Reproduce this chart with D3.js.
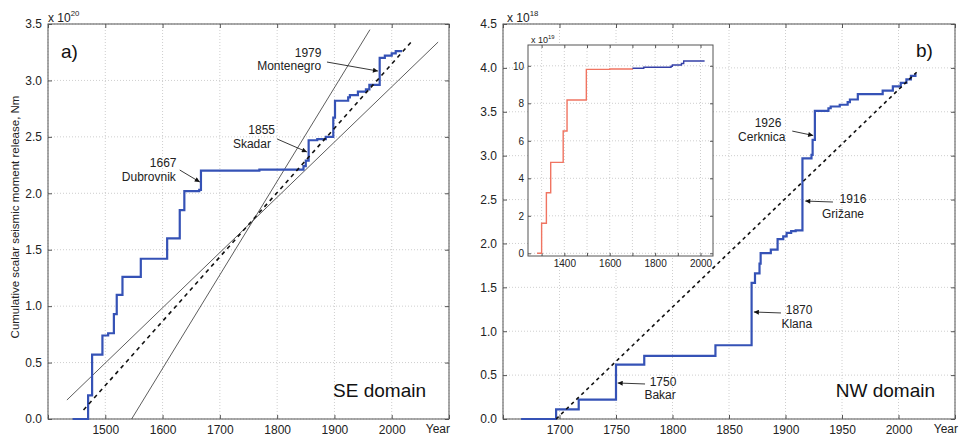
<!DOCTYPE html>
<html>
<meta charset="utf-8">
<style>
body { margin: 0; background: #fff; }
svg { font-family: "Liberation Sans", Arial, sans-serif; }
.grid line { stroke: #c2c2c2; stroke-width: 0.8; stroke-dasharray: 1,2; }
.frame { fill: none; stroke: #555; stroke-width: 1; }
.axis path { display: none; }
.axis line { stroke: #555; }
.axis text { fill: #222; }
.note { font-size: 12px; fill: #222; }
</style>
<svg width="959" height="437"></svg>
<script src="https://d3js.org/d3.v7.min.js"></script>
<script>
// ---- a) SE domain, cumulative moment in 1e20 Nm
var seYears  = [1443, 1470, 1477, 1495, 1505, 1515, 1520, 1530, 1562, 1608, 1630, 1638, 1664, 1667,
                1769, 1846, 1850, 1855, 1870, 1885, 1898, 1901, 1924, 1927, 1941, 1955, 1961, 1979,
                1988, 2000, 2007, 2018];
var seMoment = [0, 0.21, 0.57, 0.74, 0.76, 0.93, 1.10, 1.26, 1.42, 1.60, 1.85, 2.02, 2.03, 2.20,
                2.21, 2.24, 2.29, 2.47, 2.48, 2.50, 2.67, 2.82, 2.85, 2.87, 2.90, 2.92, 2.96, 3.20,
                3.22, 3.24, 3.26, 3.26];
var seMeanYears = [1462, 2034], seMeanValues = [0.08, 3.34];
var seSteepYears = [1546, 1962], seSteepValues = [0, 3.45];
var seFlatYears = [1433, 2081], seFlatValues = [0.168, 3.34];
var seXTicks = [1400, 1500, 1600, 1700, 1800, 1900, 2000, 2100];
var seXLabels = [1500, 1600, 1700, 1800, 1900, 2000];
var seYTicks = [0, 0.5, 1, 1.5, 2, 2.5, 3, 3.5];

// ---- b) NW domain, cumulative moment in 1e18 Nm
var nwYears  = [1666, 1697, 1717, 1750, 1775, 1838, 1870, 1873, 1877, 1878, 1887, 1893, 1898, 1901,
                1905, 1909, 1915, 1923, 1924, 1926, 1938, 1940, 1948, 1955, 1957, 1964, 1986, 1995,
                2002, 2007, 2011, 2015];
var nwMoment = [0, 0.11, 0.22, 0.62, 0.72, 0.84, 1.55, 1.66, 1.77, 1.89, 1.93, 2.05, 2.08, 2.12,
                2.14, 2.15, 2.97, 3.01, 3.18, 3.51, 3.54, 3.56, 3.58, 3.61, 3.64, 3.70, 3.74, 3.79,
                3.83, 3.87, 3.91, 3.94];
var nwMeanYears = [1697, 2016], nwMeanValues = [0, 3.95];
var nwXTicks = [1650, 1700, 1750, 1800, 1850, 1900, 1950, 2000, 2050];
var nwXLabels = [1700, 1750, 1800, 1850, 1900, 1950, 2000];
var nwYTicks = [0, 0.5, 1, 1.5, 2, 2.5, 3, 3.5, 4, 4.5];

// ---- inset, whole catalogue in 1e19 Nm (red before 1700, blue after)
var insetEarlyYears  = [1280, 1300, 1321, 1340, 1395, 1412, 1497, 1600, 1700];
var insetEarlyMoment = [0, 1.6, 3.23, 4.85, 6.52, 8.18, 9.81, 9.83, 9.87];
var insetLateYears   = [1700, 1750, 1870, 1876, 1916, 1926, 2015];
var insetLateMoment  = [9.87, 9.92, 9.98, 10.04, 10.12, 10.26, 10.29];
var insetXTicks = [1300, 1400, 1500, 1600, 1700, 1800, 1900, 2000];
var insetXLabels = [1400, 1600, 1800, 2000];
var insetYTicks = [0, 2, 4, 6, 8, 10];

// annotations: year label, place, text anchor [year, value], arrow [from, to]
var seNotes = [
  {year: "1979", place: "Montenegro", at: [1854, 3.243], at2: [1821, 3.128], from: [1887, 3.163], to: [1976, 3.083]},
  {year: "1855", place: "Skadar", at: [1773, 2.561], at2: [1756, 2.437], from: [1800, 2.481], to: [1852, 2.366]},
  {year: "1667", place: "Dubrovnik", at: [1601, 2.268], at2: [1576, 2.144], from: [1630, 2.206], to: [1665, 2.10]}
];
var nwNotes = [
  {year: "1926", place: "Cerknica", at: [1884.5, 3.372], at2: [1879, 3.213], from: [1906, 3.28], to: [1924.5, 3.23]},
  {year: "1916", place: "Grižane", at: [1959.7, 2.505], at2: [1950.9, 2.335], from: [1942, 2.472], to: [1917.5, 2.483]},
  {year: "1870", place: "Klana", at: [1912, 1.242], at2: [1910, 1.082], from: [1896, 1.208], to: [1872, 1.219]},
  {year: "1750", place: "Bakar", at: [1791.6, 0.42], at2: [1789, 0.273], from: [1775.7, 0.399], to: [1751.5, 0.41]}
];

var svg = d3.select("svg");
svg.append("rect").attr("width", 959).attr("height", 437).attr("fill", "#fff");

svg.append("defs").append("marker")
    .attr("id", "arrow")
    .attr("viewBox", "0 0 10 10")
    .attr("refX", 10).attr("refY", 5)
    .attr("markerWidth", 7).attr("markerHeight", 5)
    .attr("markerUnits", "userSpaceOnUse")
    .attr("orient", "auto")
  .append("path")
    .attr("d", "M0,0L10,5L0,10z")
    .attr("fill", "#111");

function zip(a, b) { return a.map(function(v, i) { return [v, b[i]]; }); }

function makePanel(box, xDomain, yDomain, xTicks, xLabels, yTicks, fmt, fs) {
  var x = d3.scaleLinear().domain(xDomain).range([box.left, box.right]);
  var y = d3.scaleLinear().domain(yDomain).range([box.bottom, box.top]);
  var g = svg.append("g");

  g.append("rect")
      .attr("x", box.left).attr("y", box.top)
      .attr("width", box.right - box.left).attr("height", box.bottom - box.top)
      .attr("fill", "#fff");

  var grid = g.append("g").attr("class", "grid");
  grid.selectAll(".gx").data(xTicks).join("line")
      .attr("x1", x).attr("x2", x)
      .attr("y1", box.top).attr("y2", box.bottom);
  grid.selectAll(".gy").data(yTicks).join("line")
      .attr("y1", y).attr("y2", y)
      .attr("x1", box.left).attr("x2", box.right);

  var tk = fs > 11 ? 4 : 3;
  g.append("g").attr("class", "axis")
      .attr("transform", "translate(0," + box.bottom + ")")
      .style("font-size", fs + "px")
      .call(d3.axisBottom(x).tickValues(xTicks).tickSizeInner(-tk).tickSizeOuter(0)
        .tickPadding(fs > 11 ? 6 : 4)
        .tickFormat(function(d) { return xLabels.indexOf(d) >= 0 ? d : ""; }));
  g.append("g").attr("class", "axis")
      .attr("transform", "translate(0," + box.top + ")")
      .call(d3.axisTop(x).tickValues(xTicks).tickSizeInner(-tk).tickSizeOuter(0).tickFormat(""));
  g.append("g").attr("class", "axis")
      .attr("transform", "translate(" + box.left + ",0)")
      .style("font-size", fs + "px")
      .call(d3.axisLeft(y).tickValues(yTicks).tickSizeInner(-tk).tickSizeOuter(0)
        .tickPadding(fs > 11 ? 6 : 4).tickFormat(d3.format(fmt)));
  g.append("g").attr("class", "axis")
      .attr("transform", "translate(" + box.right + ",0)")
      .call(d3.axisRight(y).tickValues(yTicks).tickSizeInner(-tk).tickSizeOuter(0).tickFormat(""));

  g.selectAll(".axis").attr("font-family", null);

  g.append("rect").attr("class", "frame")
      .attr("x", box.left).attr("y", box.top)
      .attr("width", box.right - box.left).attr("height", box.bottom - box.top);

  return {x: x, y: y, g: g};
}

function exponent(g, px, py, base, sup, fs) {
  var t = g.append("text").attr("x", px).attr("y", py)
      .style("font-size", fs + "px").attr("fill", "#222");
  t.append("tspan").text(base);
  t.append("tspan").attr("dy", -fs * 0.5).style("font-size", (fs * 0.65) + "px").text(sup);
}

function notes(p, list) {
  list.forEach(function(n) {
    p.g.append("text").attr("class", "note").attr("text-anchor", "middle")
        .attr("x", p.x(n.at[0])).attr("y", p.y(n.at[1]) + 4.3).text(n.year);
    p.g.append("text").attr("class", "note").attr("text-anchor", "middle")
        .attr("x", p.x(n.at2[0])).attr("y", p.y(n.at2[1]) + 4.3).text(n.place);
    p.g.append("line")
        .attr("x1", p.x(n.from[0])).attr("y1", p.y(n.from[1]))
        .attr("x2", p.x(n.to[0])).attr("y2", p.y(n.to[1]))
        .attr("stroke", "#222").attr("stroke-width", 0.9)
        .attr("marker-end", "url(#arrow)");
  });
}

// ===== panel a
var pa = makePanel({left: 48, right: 449, top: 24, bottom: 419},
    [1400, 2100], [0, 3.5], seXTicks, seXLabels, seYTicks, ".1f", 12);

var lineA = d3.line().x(function(d) { return pa.x(d[0]); }).y(function(d) { return pa.y(d[1]); });

pa.g.append("path").datum(zip(seSteepYears, seSteepValues))
    .attr("d", lineA).attr("fill", "none").attr("stroke", "#333").attr("stroke-width", 0.8);
pa.g.append("path").datum(zip(seFlatYears, seFlatValues))
    .attr("d", lineA).attr("fill", "none").attr("stroke", "#333").attr("stroke-width", 0.8);
pa.g.append("path").datum(zip(seYears, seMoment))
    .attr("d", lineA.curve(d3.curveStepAfter)).attr("fill", "none")
    .attr("stroke", "#3552b6").attr("stroke-width", 2.2);
lineA.curve(d3.curveLinear);
pa.g.append("path").datum(zip(seMeanYears, seMeanValues))
    .attr("d", lineA).attr("fill", "none").attr("stroke", "#111")
    .attr("stroke-width", 1.6).attr("stroke-dasharray", "4,4");

notes(pa, seNotes);

pa.g.append("text").attr("x", 61).attr("y", 58).style("font-size", "19px").attr("fill", "#111").text("a)");
pa.g.append("text").attr("x", 426).attr("y", 397).attr("text-anchor", "end")
    .style("font-size", "19px").attr("fill", "#111").text("SE domain");
pa.g.append("text").attr("x", 450).attr("y", 433).attr("text-anchor", "end")
    .style("font-size", "12px").attr("fill", "#222").text("Year");
exponent(pa.g, 48, 22, "x 10", "20", 12);
pa.g.append("text")
    .attr("transform", "translate(19,217) rotate(-90)")
    .attr("text-anchor", "middle").style("font-size", "11.5px").attr("fill", "#222")
    .text("Cumulative scalar seismic moment release, Nm");

// ===== panel b
var pb = makePanel({left: 503, right: 955, top: 24, bottom: 419},
    [1650, 2050], [0, 4.5], nwXTicks, nwXLabels, nwYTicks, ".1f", 12);

var lineB = d3.line().x(function(d) { return pb.x(d[0]); }).y(function(d) { return pb.y(d[1]); });

pb.g.append("path").datum(zip(nwYears, nwMoment))
    .attr("d", lineB.curve(d3.curveStepAfter)).attr("fill", "none")
    .attr("stroke", "#3552b6").attr("stroke-width", 2.2);
lineB.curve(d3.curveLinear);
pb.g.append("path").datum(zip(nwMeanYears, nwMeanValues))
    .attr("d", lineB).attr("fill", "none").attr("stroke", "#111")
    .attr("stroke-width", 1.6).attr("stroke-dasharray", "3.5,3.5");

notes(pb, nwNotes);

pb.g.append("text").attr("x", 916).attr("y", 57).style("font-size", "19px").attr("fill", "#111").text("b)");
pb.g.append("text").attr("x", 935).attr("y", 397).attr("text-anchor", "end")
    .style("font-size", "19px").attr("fill", "#111").text("NW domain");
pb.g.append("text").attr("x", 958).attr("y", 433).attr("text-anchor", "end")
    .style("font-size", "12px").attr("fill", "#222").text("Year");
exponent(pb.g, 507, 22, "x 10", "18", 12);

// ===== inset
var pi = makePanel({left: 528, right: 713, top: 45, bottom: 256},
    [1240, 2055], [-0.144, 11.11], insetXTicks, insetXLabels, insetYTicks, "d", 10);

var lineI = d3.line().curve(d3.curveStepAfter)
    .x(function(d) { return pi.x(d[0]); }).y(function(d) { return pi.y(d[1]); });
pi.g.append("path").datum(zip(insetEarlyYears, insetEarlyMoment))
    .attr("d", lineI).attr("fill", "none").attr("stroke", "#f07461").attr("stroke-width", 1.4);
pi.g.append("path").datum(zip(insetLateYears, insetLateMoment))
    .attr("d", lineI).attr("fill", "none").attr("stroke", "#3540a8").attr("stroke-width", 1.4);
exponent(pi.g, 531, 43, "x 10", "19", 9);
</script>
</html>
